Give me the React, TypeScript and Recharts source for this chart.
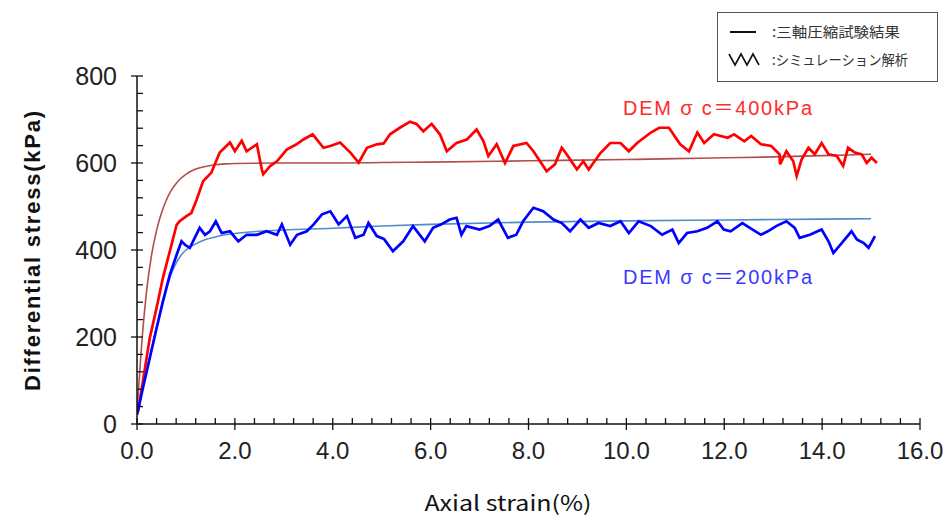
import React from 'react';
import { LineChart, Line, XAxis, YAxis } from 'recharts';

// axial strain (%) vs differential stress (kPa)
const xMajorTicks = [0, 2, 4, 6, 8, 10, 12, 14, 16];
const yMajorTicks = [0, 200, 400, 600, 800];

// triaxial test (smooth) curves
const triaxial400 = [
  [0, 30], [0.05, 110], [0.1, 190], [0.15, 255], [0.2, 310], [0.3, 390], [0.4, 445], [0.5, 485],
  [0.6, 515], [0.7, 537], [0.8, 553], [0.9, 565], [1.0, 574], [1.2, 586], [1.4, 592], [1.6, 596],
  [1.8, 598], [2.0, 599], [3.0, 600], [4.0, 600], [5.0, 601], [6.0, 602], [8.0, 605], [10.0, 608],
  [11.0, 610], [12.0, 612], [13.0, 614], [14.0, 617], [15.0, 620],
];
const triaxial200 = [
  [0, 30], [0.1, 75], [0.2, 125], [0.3, 175], [0.4, 222], [0.5, 270], [0.6, 310], [0.7, 345],
  [0.8, 370], [0.9, 388], [1.0, 400], [1.2, 414], [1.4, 424], [1.6, 430], [1.8, 435], [2.0, 438],
  [2.5, 443], [3.0, 446], [4.0, 450], [5.0, 455], [6.0, 459], [8.0, 464], [10.0, 467], [12.0, 469],
  [14.0, 471], [15.0, 472],
];

// DEM simulation curves
const dem400 = [
  [0.02, 28], [0.12, 98], [0.26, 197], [0.4, 267], [0.53, 336], [0.67, 397], [0.81, 458], [0.87, 466],
  [1.01, 478], [1.11, 485], [1.22, 516], [1.35, 558], [1.52, 578], [1.63, 608], [1.69, 624], [1.9, 647],
  [2.0, 627], [2.14, 651], [2.24, 627], [2.45, 643], [2.55, 585], [2.58, 574], [2.72, 593], [2.86, 604],
  [3.06, 631], [3.26, 643], [3.4, 654], [3.59, 666], [3.81, 635], [3.95, 639], [4.15, 647], [4.36, 624],
  [4.53, 601], [4.7, 635], [4.9, 643], [5.04, 645], [5.17, 666], [5.37, 681], [5.58, 695], [5.71, 690],
  [5.85, 673], [6.02, 690], [6.19, 666], [6.33, 627], [6.53, 646], [6.74, 654], [6.94, 677], [7.08, 650],
  [7.18, 616], [7.35, 643], [7.52, 600], [7.69, 639], [7.96, 646], [8.1, 627], [8.3, 593], [8.37, 581],
  [8.54, 597], [8.68, 635], [8.78, 620], [8.99, 585], [9.12, 604], [9.23, 585], [9.47, 623], [9.67, 646],
  [9.88, 646], [10.05, 627], [10.22, 646], [10.5, 670], [10.67, 681], [10.87, 681], [11.1, 643],
  [11.28, 627], [11.45, 670], [11.59, 646], [11.79, 666], [12.07, 658], [12.2, 666], [12.41, 650],
  [12.55, 662], [12.75, 643], [12.96, 639], [13.13, 620], [13.14, 597], [13.27, 627], [13.41, 604],
  [13.48, 570], [13.58, 608], [13.72, 635], [13.85, 620], [13.99, 646], [14.13, 620], [14.3, 616],
  [14.43, 593], [14.53, 635], [14.67, 624], [14.81, 620], [14.91, 600], [15.01, 612], [15.12, 600],
];
const dem200 = [
  [0, 21], [0.12, 82], [0.26, 151], [0.4, 220], [0.53, 282], [0.67, 343], [0.81, 389], [0.91, 420],
  [0.98, 412], [1.08, 405], [1.18, 428], [1.28, 451], [1.39, 435], [1.49, 443], [1.61, 466], [1.73, 439],
  [1.9, 443], [2.07, 420], [2.24, 435], [2.45, 435], [2.65, 443], [2.86, 435], [2.96, 459], [3.13, 412],
  [3.27, 435], [3.47, 443], [3.61, 459], [3.78, 482], [3.95, 489], [4.12, 459], [4.29, 478], [4.46, 428],
  [4.63, 435], [4.73, 462], [4.9, 432], [5.05, 425], [5.23, 397], [5.44, 420], [5.64, 455], [5.88, 420],
  [6.05, 451], [6.22, 459], [6.39, 470], [6.53, 474], [6.63, 435], [6.73, 455], [7.0, 447], [7.2, 455],
  [7.38, 470], [7.58, 428], [7.75, 435], [7.89, 466], [8.1, 497], [8.3, 489], [8.51, 470], [8.68, 462],
  [8.85, 443], [9.06, 470], [9.23, 451], [9.43, 462], [9.67, 455], [9.88, 466], [10.05, 439], [10.25, 466],
  [10.5, 455], [10.73, 435], [10.94, 447], [11.07, 416], [11.24, 439], [11.45, 443], [11.65, 451],
  [11.86, 466], [11.99, 447], [12.13, 443], [12.37, 462], [12.58, 447], [12.75, 435], [12.89, 443],
  [13.06, 455], [13.27, 466], [13.44, 451], [13.54, 428], [13.75, 435], [13.99, 447], [14.13, 420],
  [14.23, 393], [14.4, 416], [14.6, 443], [14.71, 424], [14.85, 416], [14.95, 405], [15.08, 432],
];

const toRows = (pts: number[][]) => pts.map(([x, y]) => ({ x, y }));

// minor ticks: 5 intervals between majors
const withMinor = (majors: number[]) => {
  const out: number[] = [];
  majors.forEach((m, i) => {
    out.push(m);
    if (i < majors.length - 1) {
      const step = (majors[i + 1] - m) / 5;
      for (let k = 1; k < 5; k++) out.push(+(m + k * step).toFixed(4));
    }
  });
  return out;
};

const W = 943;
const H = 519;
const numFont = "'Liberation Sans', Arial, sans-serif";
const jpFont = "'Noto Sans CJK JP', sans-serif";
const labelFont = "'Liberation Sans', 'Noto Sans CJK JP', sans-serif";

const XTick = (props: any) => {
  const { x, y, payload } = props;
  const major = xMajorTicks.includes(payload.value);
  return (
    <g>
      <line x1={x} x2={x} y1={y - 6} y2={major ? y + 6 : y} stroke="#111" strokeWidth={1.3} />
      {major && (
        <text x={x} y={y + 35} textAnchor="middle" fontSize={24} fill="#222" fontFamily={numFont}>
          {payload.value.toFixed(1)}
        </text>
      )}
    </g>
  );
};

const YTick = (props: any) => {
  const { x, y, payload } = props;
  const major = yMajorTicks.includes(payload.value);
  return (
    <g>
      <line x1={major ? x - 6 : x} x2={x + 6} y1={y} y2={y} stroke="#111" strokeWidth={1.3} />
      {major && (
        <text x={x - 20} y={y} textAnchor="end" dominantBaseline="central" fontSize={25} fill="#222" fontFamily={numFont}>
          {payload.value}
        </text>
      )}
    </g>
  );
};

export default function App() {
  return (
    <div style={{ position: 'absolute', left: 0, top: 0, width: W, height: H, background: '#fff' }}>
      <LineChart width={W} height={H} margin={{ top: 76, right: 23, left: 136, bottom: 94 }}>
        <XAxis
          type="number"
          dataKey="x"
          domain={[0, 16]}
          ticks={withMinor(xMajorTicks)}
          interval={0}
          tick={<XTick />}
          tickLine={false}
          tickSize={0}
          tickMargin={0}
          height={1}
          axisLine={{ stroke: '#111', strokeWidth: 1.5 }}
          allowDataOverflow
        />
        <YAxis
          type="number"
          domain={[0, 800]}
          ticks={withMinor(yMajorTicks)}
          interval={0}
          tick={<YTick />}
          tickLine={false}
          tickSize={0}
          tickMargin={0}
          width={1}
          axisLine={{ stroke: '#111', strokeWidth: 1.5 }}
          allowDataOverflow
        />
        <Line data={toRows(triaxial400)} dataKey="y" type="monotone" stroke="#b34d4d" strokeWidth={1.6} dot={false} isAnimationActive={false} />
        <Line data={toRows(dem400)} dataKey="y" type="linear" stroke="#ff0000" strokeWidth={2.7} dot={false} isAnimationActive={false} />
        <Line data={toRows(triaxial200)} dataKey="y" type="monotone" stroke="#4f8cc9" strokeWidth={1.6} dot={false} isAnimationActive={false} />
        <Line data={toRows(dem200)} dataKey="y" type="linear" stroke="#0000ff" strokeWidth={2.7} dot={false} isAnimationActive={false} />
      </LineChart>
      <svg width={W} height={H} style={{ position: 'absolute', left: 0, top: 0, pointerEvents: 'none' }}>
        <text
          transform="translate(40,251) rotate(-90)"
          textAnchor="middle"
          fontSize={22}
          fontWeight="bold"
          fill="#111"
          fontFamily={numFont}
          textLength={280}
          lengthAdjust="spacing"
        >
          Differential stress(kPa)
        </text>
        <text x={508} y={511} textAnchor="middle" fontSize={21} fill="#111" fontFamily={jpFont} textLength={167} lengthAdjust="spacingAndGlyphs">
          Axial strain(%)
        </text>
        <text x={623} y={115} fontSize={20} fill="#ff2a2a" fontFamily={labelFont} textLength={189} lengthAdjust="spacing">
          DEM σ c＝400kPa
        </text>
        <text x={623} y={284} fontSize={20} fill="#3a3aff" fontFamily={labelFont} textLength={189} lengthAdjust="spacing">
          DEM σ c＝200kPa
        </text>
        <rect x={717.5} y={12.5} width={220} height={69} fill="#fff" stroke="#555" strokeWidth={1} />
        <line x1={730} x2={756} y1={32} y2={32} stroke="#111" strokeWidth={2} />
        <text x={772} y={37} fontSize={14} fill="#333" fontFamily={jpFont} textLength={128} lengthAdjust="spacingAndGlyphs">
          :三軸圧縮試験結果
        </text>
        <polyline points="729,54 735,65 741,54 747,65 753,54 759,65" fill="none" stroke="#111" strokeWidth={1.6} />
        <text x={772} y={65} fontSize={14} fill="#333" fontFamily={jpFont} textLength={136} lengthAdjust="spacingAndGlyphs">
          :シミュレーション解析
        </text>
      </svg>
    </div>
  );
}
